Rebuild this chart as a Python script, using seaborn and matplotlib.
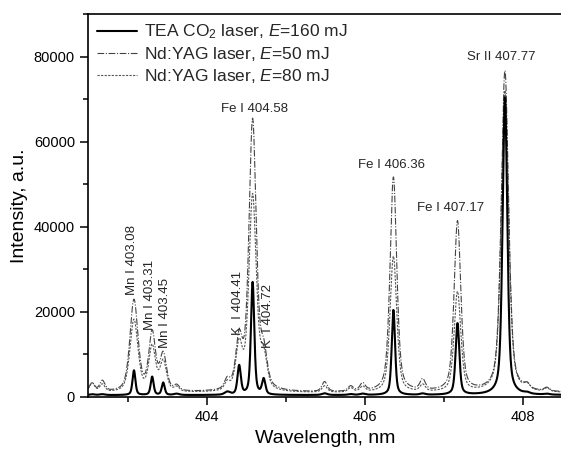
import numpy as np
import pandas as pd
import seaborn as sns
import matplotlib.pyplot as plt
from matplotlib.ticker import MultipleLocator

# emission lines (nm) and peak amplitudes
line_nm = [403.08, 403.31, 403.45, 404.41, 404.58, 404.72, 406.36, 407.17, 407.77]
co2_amp = [5800, 4300, 2900, 6800, 26500, 3600, 20000, 16800, 70000]
yag50_amp = [21500, 13500, 8500, 11500, 63500, 8000, 50500, 40000, 75500]
yag80_amp = [17000, 10500, 7000, 10500, 46000, 7500, 32000, 23500, 71000]
co2_hw = [0.022, 0.022, 0.022, 0.025, 0.025, 0.025, 0.025, 0.028, 0.035]
yag_hw = [0.06, 0.05, 0.05, 0.05, 0.055, 0.05, 0.05, 0.05, 0.055]

# weak background lines
weak_nm = [402.55, 402.68, 403.62, 404.26, 405.49, 405.82, 405.97, 406.73, 408.05, 408.3]
co2_weak = [200, 200, 300, 700, 400, 200, 300, 300, 300, 200]
yag50_weak = [2000, 2500, 1200, 2200, 2300, 1200, 1800, 2500, 1000, 800]
yag80_weak = [2200, 1800, 1000, 1800, 1500, 1000, 1300, 1600, 1200, 800]
base = {'co2': 400, 'yag50': 1000, 'yag80': 900}

labels = ['TEA CO$_2$ laser, $\\mathit{E}$=160 mJ',
          'Nd:YAG laser, $\\mathit{E}$=50 mJ',
          'Nd:YAG laser, $\\mathit{E}$=80 mJ']

wl = np.linspace(402.5, 408.5, 3000)


def profile(c, a, w):
    # pseudo-Voigt line shape
    lor = w**2 / ((wl - c)**2 + w**2)
    gau = np.exp(-np.log(2) * ((wl - c) / w)**2)
    return a * (0.5 * lor + 0.5 * gau)


def spectrum(amp, hw, weak, b):
    y = np.full_like(wl, b, dtype=float)
    for c, a, w in zip(line_nm, amp, hw):
        y += profile(c, a, w)
    for c, a in zip(weak_nm, weak):
        y += profile(c, a, 0.04)
    return y


df = pd.DataFrame({
    'wl': wl,
    'co2': spectrum(co2_amp, co2_hw, co2_weak, base['co2']),
    'yag50': spectrum(yag50_amp, yag_hw, yag50_weak, base['yag50']),
    'yag80': spectrum(yag80_amp, yag_hw, yag80_weak, base['yag80']),
})

sns.set_style('ticks')
plt.rcParams['font.family'] = ['Liberation Sans', 'DejaVu Sans']
plt.rcParams['mathtext.fontset'] = 'custom'
plt.rcParams['mathtext.rm'] = 'Liberation Sans'
plt.rcParams['mathtext.it'] = 'Liberation Sans:italic'

fig = plt.figure(figsize=(5.61, 4.53), dpi=100)
ax = fig.add_axes([0.157, 0.124, 0.846, 0.845])

sns.lineplot(data=df, x='wl', y='yag80', ax=ax, color='#555555', lw=0.8,
             linestyle=(0, (2, 1.2)), label=labels[2])
sns.lineplot(data=df, x='wl', y='yag50', ax=ax, color='#444444', lw=0.8,
             linestyle=(0, (6, 1.5, 1, 1.5)), label=labels[1])
sns.lineplot(data=df, x='wl', y='co2', ax=ax, color='black', lw=1.5,
             label=labels[0])

h, l = ax.get_legend_handles_labels()
ax.legend(h[::-1], l[::-1], loc='upper left', frameon=False, fontsize=12.5,
          handlelength=2.3, borderaxespad=0.3, labelspacing=0.22,
          handletextpad=0.4, borderpad=0.2)

ax.set_xlim(402.5, 408.5)
ax.set_ylim(0, 90000)
ax.xaxis.set_major_locator(MultipleLocator(2))
ax.xaxis.set_minor_locator(MultipleLocator(1))
ax.yaxis.set_major_locator(MultipleLocator(20000))
ax.yaxis.set_minor_locator(MultipleLocator(10000))
ax.tick_params(which='major', length=6, width=1.1, labelsize=10.5,
               color='black', labelcolor='black')
ax.tick_params(which='minor', length=3.5, width=1.1, color='black')
ax.spines['right'].set_visible(False)
for s in ['left', 'bottom', 'top']:
    ax.spines[s].set_linewidth(1.2)
    ax.spines[s].set_color('black')

ax.set_xlabel('Wavelength, nm', fontsize=14, color='black')
ax.set_ylabel('Intensity, a.u.', fontsize=14, color='black')

# line annotations
ax.text(404.61, 66300, 'Fe I 404.58', ha='center', va='bottom', fontsize=9.5)
ax.text(406.34, 53000, 'Fe I 406.36', ha='center', va='bottom', fontsize=9.5)
ax.text(407.08, 43000, 'Fe I 407.17', ha='center', va='bottom', fontsize=9.5)
ax.text(407.72, 78500, 'Sr II 407.77', ha='center', va='bottom', fontsize=9.5)
for x, y, t in [(403.05, 24000, 'Mn I 403.08'), (403.28, 15800, 'Mn I 403.31'),
                (403.47, 11500, 'Mn I 403.45'), (404.39, 14600, 'K  I 404.41'),
                (404.77, 11500, 'K  I 404.72')]:
    ax.text(x, y, t, rotation=90, ha='center', va='bottom', fontsize=9.5)

fig.savefig('out.png', dpi=100)
